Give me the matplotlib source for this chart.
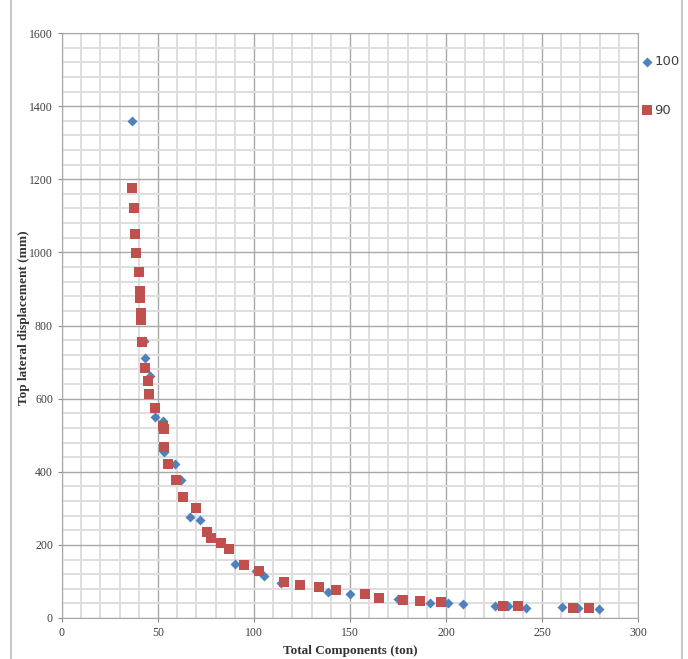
import matplotlib
matplotlib.use("Agg")
import matplotlib.pyplot as plt
from matplotlib.ticker import MultipleLocator
from matplotlib.patches import Rectangle

# series "100" (blue diamonds)
x100 = [36.4, 37.5, 42.5, 43.4, 45.6, 48.3, 52.6, 53.3, 58.7, 62.0, 66.9, 71.8,
        89.9, 100.9, 105.2, 114.0, 138.4, 150.0, 175.0, 191.5, 201.1, 208.9,
        225.5, 232.5, 241.5, 260.3, 268.7, 279.5]
y100 = [1358, 1122, 758, 712, 661, 550, 539, 454, 422, 378, 277, 268,
        149, 129, 116, 97, 70, 66, 52, 41, 41, 38,
        34, 34, 28, 29, 27, 25]

# series "90" (red squares)
x90 = [36.7, 37.3, 37.8, 38.3, 39.9, 40.8, 40.8, 41.1, 41.1, 41.7, 43.0, 44.6,
       45.5, 48.3, 52.6, 53.0, 53.3, 55.2, 59.4, 63.1, 70.0, 75.6, 77.4, 82.6,
       86.9, 94.8, 102.6, 115.7, 124.0, 134.0, 142.7, 157.9, 165.0, 177.6,
       186.3, 197.6, 229.8, 237.7, 265.9, 274.6]
y90 = [1177, 1122, 1051, 997, 947, 893, 876, 833, 816, 756, 683, 647,
       614, 575, 525, 516, 468, 422, 378, 330, 302, 234, 219, 204,
       190, 145, 128, 99, 91, 84, 77, 66, 56, 50,
       47, 43, 34, 34, 28, 28]

fig = plt.figure(figsize=(6.88, 6.59), dpi=100)
ax = fig.add_axes([62 / 688, 1 - 618 / 659, 576 / 688, 585 / 659])

ax.scatter(x100, y100, marker="D", s=26, color="#4F81BD", linewidths=0,
           label="100", zorder=3)
ax.scatter(x90, y90, marker="s", s=50, color="#C0504D", linewidths=0,
           label="90", zorder=4)

ax.set_xlim(0, 300)
ax.set_ylim(0, 1600)
ax.xaxis.set_major_locator(MultipleLocator(50))
ax.xaxis.set_minor_locator(MultipleLocator(10))
ax.yaxis.set_major_locator(MultipleLocator(200))
ax.yaxis.set_minor_locator(MultipleLocator(40))
ax.grid(which="minor", color="#dedede", linewidth=1.4, zorder=0)
ax.grid(which="major", color="#a8a8a8", linewidth=1.0, zorder=1)
ax.set_axisbelow(True)
for s in ax.spines.values():
    s.set_color("#a8a8a8")
ax.tick_params(which="minor", length=0)
ax.tick_params(which="major", length=3, color="#888888", labelsize=8.5,
               labelcolor="#404040")
for lab in ax.get_xticklabels() + ax.get_yticklabels():
    lab.set_family("Liberation Serif")

ax.set_xlabel("Total Components (ton)", family="Liberation Serif",
              fontweight="bold", fontsize=9.5, color="#333333", labelpad=4)
ax.set_ylabel("Top lateral displacement (mm)", family="Liberation Serif",
              fontweight="bold", fontsize=9.5, color="#333333")
ax.yaxis.set_label_coords(-0.055, 0.513)

leg = ax.legend(loc="upper left", bbox_to_anchor=(640 / 688, 1 - 55 / 659),
                bbox_transform=fig.transFigure, frameon=False, fontsize=9.5,
                labelspacing=2.7, handletextpad=0.1, handlelength=1.0,
                borderpad=0, borderaxespad=0)
for t in leg.get_texts():
    t.set_color("#404040")

# outer chart frame (Excel chart area)
fig.patches.append(Rectangle((11 / 688, -0.02), 671 / 688, 1.04,
                             transform=fig.transFigure, fill=False,
                             edgecolor="#c8c8c8", linewidth=1.5))

fig.savefig("out.png", dpi=100)
